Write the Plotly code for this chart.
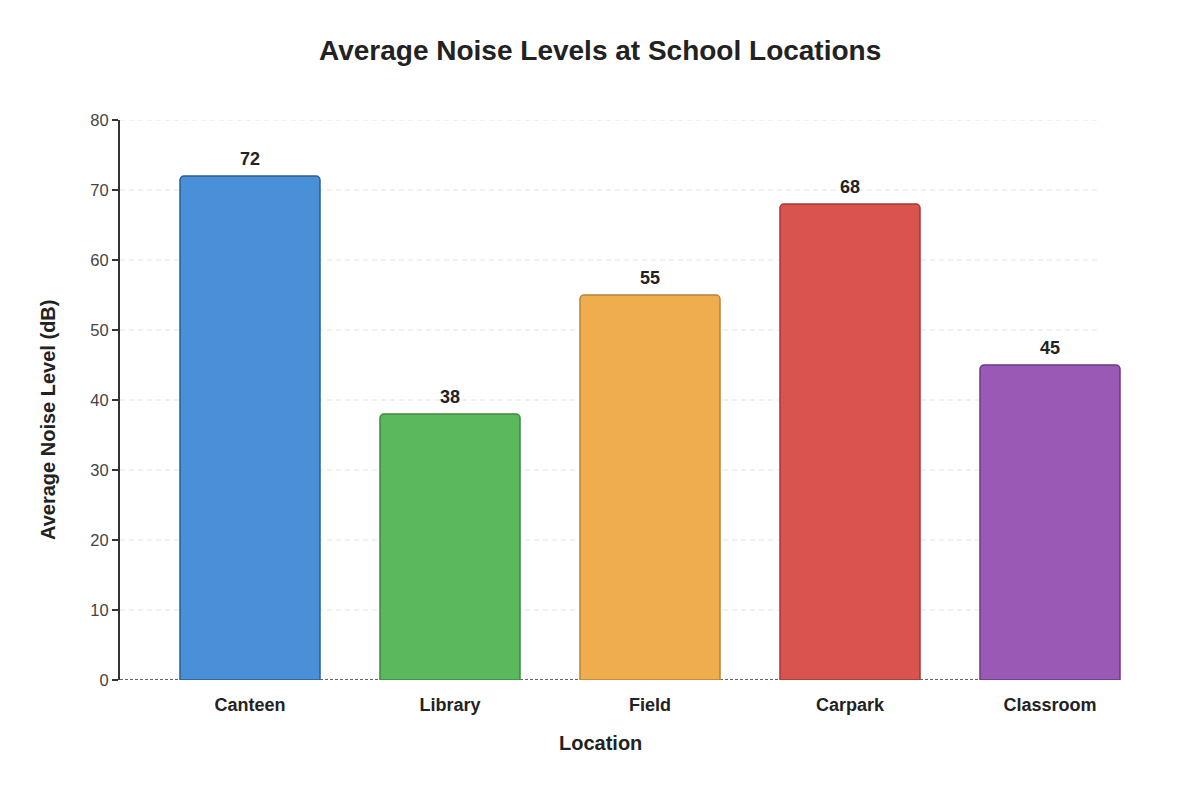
"""
Bar chart of average noise levels around the school
"""

import plotly.graph_objects as go

# Data
locations = ['Canteen', 'Library', 'Field', 'Carpark', 'Classroom']
noise_db = [72, 38, 55, 68, 45]
y_ticks = [0, 10, 20, 30, 40, 50, 60, 70, 80]

# Colours (fill + darker outline)
bar_colors = ['#4a90d9', '#5cb85c', '#f0ad4e', '#d9534f', '#9b59b6']
edge_colors = ['#2c5f8f', '#3b8a3b', '#b8833a', '#a33a37', '#6c3a86']

FONT = 'Liberation Sans, Arial, sans-serif'

fig = go.Figure(go.Bar(
    x=locations,
    y=noise_db,
    marker=dict(color=bar_colors, line=dict(color=edge_colors, width=1.5), cornerradius=4),
    hoverinfo='x+y',
))

# plot area is 1030 x 560 px, grid stops 50 px short of the right edge
PW, PH = 1030, 560
grid_end = (PW - 50) / PW

shapes = []
for t in y_ticks[1:]:
    shapes.append(dict(type='line', xref='paper', yref='y', x0=0, x1=grid_end, y0=t, y1=t,
                       line=dict(color='#e3e3e3', width=1, dash='5px,4px'), layer='below'))
# dark dashed baseline
shapes.append(dict(type='line', xref='paper', yref='y', x0=0, x1=grid_end, y0=0, y1=0,
                   line=dict(color='#333', width=1.5, dash='3px,2px'), layer='below'))

# value labels above each bar
annotations = [
    dict(x=loc, y=val, text=f'<b>{val}</b>', showarrow=False, yanchor='bottom', yshift=5,
         font=dict(size=18, color='#222', family=FONT))
    for loc, val in zip(locations, noise_db)
]
annotations += [
    dict(text='<b>Average Noise Levels at School Locations</b>', xref='paper', yref='paper',
         x=480 / PW, y=1 + 70 / PH, xanchor='center', yanchor='middle',
         showarrow=False, font=dict(size=28, color='#222', family=FONT)),
    dict(text='<b>Location</b>', xref='paper', yref='paper',
         x=480 / PW, y=-63 / PH, xanchor='center', yanchor='middle',
         showarrow=False, font=dict(size=20, color='#222', family=FONT)),
    dict(text='<b>Average Noise Level (dB)</b>', xref='paper', yref='paper',
         x=-72 / PW, y=260 / PH, xanchor='center', yanchor='middle',
         textangle=-90, showarrow=False, font=dict(size=20, color='#222', family=FONT)),
]

fig.update_layout(
    width=1200,
    height=800,
    margin=dict(l=112, r=58, t=112, b=128),
    plot_bgcolor='white',
    paper_bgcolor='white',
    font=dict(family=FONT, color='#222'),
    bargap=0.3,
    showlegend=False,
    shapes=shapes,
    annotations=annotations,
)

fig.update_xaxes(
    range=[-0.65, 4.5],
    showgrid=False,
    showline=False,
    ticks='',
    ticklabelstandoff=12,
    tickfont=dict(size=18, color='#222', family=FONT),
    tickprefix='<b>',
    ticksuffix='</b>',
)

fig.update_yaxes(
    range=[0, 80],
    tickvals=y_ticks,
    showgrid=False,
    zeroline=False,
    showline=True,
    linecolor='#333',
    linewidth=2,
    ticks='outside',
    ticklen=6,
    tickwidth=1.5,
    tickcolor='#333',
    tickfont=dict(size=16.5, color='#444', family=FONT),
)

fig.write_html('out.html')
